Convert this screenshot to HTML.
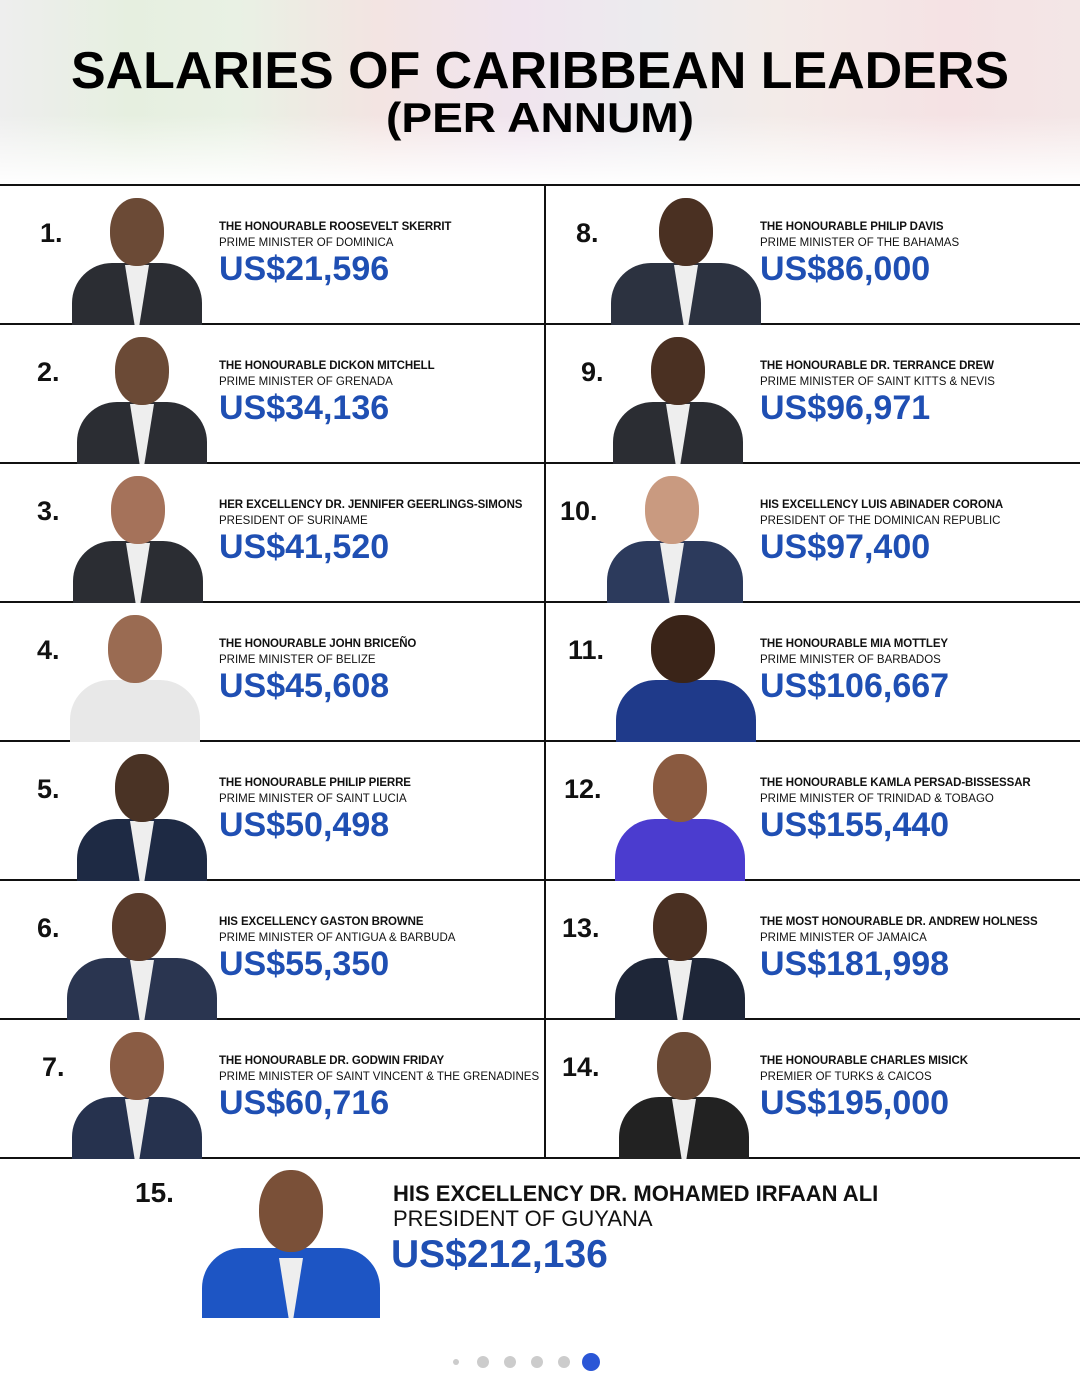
<!DOCTYPE html>
<html><head><meta charset="utf-8"><style>
body{margin:0;width:1080px;height:1380px;background:#fff;position:relative;overflow:hidden;font-family:"Liberation Sans",sans-serif}
.hdr{position:absolute;left:0;top:0;width:1080px;height:185px;background:linear-gradient(90deg,#eee 0%,#e6efe0 12%,#e9f1e4 22%,#f3e4e2 35%,#f0e4ee 48%,#ecebee 60%,#f3ebe8 72%,#f5e2e4 88%,#f3e6e6 100%)}
.hdr:after{content:"";position:absolute;left:0;right:0;bottom:0;height:70px;background:linear-gradient(rgba(255,255,255,0),#fff)}
.h{position:absolute;left:0;height:2px;background:#111;width:1080px}
.v{position:absolute;left:544px;top:185px;width:2px;height:973px;background:#111}
.c{position:absolute;width:540px;height:139px}
.n{position:absolute;top:32px;font-weight:bold;font-size:27px;color:#111}
.t{position:absolute;top:33px;font-size:11.5px;line-height:16px;color:#111;white-space:nowrap}
.t b{display:block;letter-spacing:-.1px}
.s{position:absolute;top:64px;font-weight:bold;font-size:34px;color:#1f4fb3;letter-spacing:0}
.p{position:absolute;top:12px;width:140px;height:127px;overflow:hidden}
.p .b{position:absolute;left:5px;right:5px;bottom:0;height:62px;background:#2b2d33;border-radius:40px 40px 0 0}
.p .sh{position:absolute;left:58px;width:24px;bottom:0;height:60px;background:#eee;clip-path:polygon(0 0,100% 0,60% 100%,40% 100%)}
.p .k{position:absolute;left:43px;top:0;width:54px;height:68px;background:#6b4a36;border-radius:48%}
</style></head><body>
<div class="hdr"></div>
<svg style="position:absolute;left:0;top:0" width="1080" height="185">
<text x="540" y="88" text-anchor="middle" font-family="Liberation Sans" font-weight="bold" font-size="52" textLength="938" lengthAdjust="spacingAndGlyphs" fill="#000">SALARIES OF CARIBBEAN LEADERS</text>
<text x="540" y="132" text-anchor="middle" font-family="Liberation Sans" font-weight="bold" font-size="42" textLength="308" lengthAdjust="spacingAndGlyphs" fill="#000">(PER ANNUM)</text>
</svg>
<div class="h" style="top:184px"></div><div class="h" style="top:323px"></div><div class="h" style="top:462px"></div><div class="h" style="top:601px"></div><div class="h" style="top:740px"></div><div class="h" style="top:879px"></div><div class="h" style="top:1018px"></div><div class="h" style="top:1157px"></div>
<div class="v"></div>

<div class="c" style="left:0;top:186px"><div class="n" style="left:40px">1.</div><div class="p" style="left:67px"><div class="b"></div><div class="sh"></div><div class="k"></div></div><div class="t" style="left:219px"><b>THE HONOURABLE ROOSEVELT SKERRIT</b>PRIME MINISTER OF DOMINICA</div><div class="s" style="left:219px">US$21,596</div></div>
<div class="c" style="left:0;top:325px"><div class="n" style="left:37px">2.</div><div class="p" style="left:72px"><div class="b"></div><div class="sh"></div><div class="k"></div></div><div class="t" style="left:219px"><b>THE HONOURABLE DICKON MITCHELL</b>PRIME MINISTER OF GRENADA</div><div class="s" style="left:219px">US$34,136</div></div>
<div class="c" style="left:0;top:464px"><div class="n" style="left:37px">3.</div><div class="p" style="left:68px"><div class="b"></div><div class="sh"></div><div class="k" style="background:#a5725a"></div></div><div class="t" style="left:219px"><b>HER EXCELLENCY DR. JENNIFER GEERLINGS-SIMONS</b>PRESIDENT OF SURINAME</div><div class="s" style="left:219px">US$41,520</div></div>
<div class="c" style="left:0;top:603px"><div class="n" style="left:37px">4.</div><div class="p" style="left:65px"><div class="b" style="background:#e8e8e8"></div><div class="k" style="background:#9a6b52"></div></div><div class="t" style="left:219px"><b>THE HONOURABLE JOHN BRICEÑO</b>PRIME MINISTER OF BELIZE</div><div class="s" style="left:219px">US$45,608</div></div>
<div class="c" style="left:0;top:742px"><div class="n" style="left:37px">5.</div><div class="p" style="left:72px"><div class="b" style="background:#1e2a44"></div><div class="sh"></div><div class="k" style="background:#4a3325"></div></div><div class="t" style="left:219px"><b>THE HONOURABLE PHILIP PIERRE</b>PRIME MINISTER OF SAINT LUCIA</div><div class="s" style="left:219px">US$50,498</div></div>
<div class="c" style="left:0;top:881px"><div class="n" style="left:37px">6.</div><div class="p" style="left:62px;width:160px"><div class="b" style="background:#2a3550"></div><div class="sh" style="left:68px"></div><div class="k" style="left:50px;background:#5a3c2c"></div></div><div class="t" style="left:219px"><b>HIS EXCELLENCY GASTON BROWNE</b>PRIME MINISTER OF ANTIGUA &amp; BARBUDA</div><div class="s" style="left:219px">US$55,350</div></div>
<div class="c" style="left:0;top:1020px"><div class="n" style="left:42px">7.</div><div class="p" style="left:67px"><div class="b" style="background:#26324e"></div><div class="sh"></div><div class="k" style="background:#8a5c44"></div></div><div class="t" style="left:219px"><b>THE HONOURABLE DR. GODWIN FRIDAY</b>PRIME MINISTER OF SAINT VINCENT &amp; THE GRENADINES</div><div class="s" style="left:219px">US$60,716</div></div>

<div class="c" style="left:546px;top:186px"><div class="n" style="left:30px">8.</div><div class="p" style="left:60px;width:160px"><div class="b" style="background:#2c3240"></div><div class="sh" style="left:68px"></div><div class="k" style="left:53px;background:#4a3022"></div></div><div class="t" style="left:214px"><b>THE HONOURABLE PHILIP DAVIS</b>PRIME MINISTER OF THE BAHAMAS</div><div class="s" style="left:214px">US$86,000</div></div>
<div class="c" style="left:546px;top:325px"><div class="n" style="left:35px">9.</div><div class="p" style="left:62px"><div class="b"></div><div class="sh"></div><div class="k" style="background:#4a3022"></div></div><div class="t" style="left:214px"><b>THE HONOURABLE DR. TERRANCE DREW</b>PRIME MINISTER OF SAINT KITTS &amp; NEVIS</div><div class="s" style="left:214px">US$96,971</div></div>
<div class="c" style="left:546px;top:464px"><div class="n" style="left:14px">10.</div><div class="p" style="left:56px;width:146px"><div class="b" style="background:#2c3a5c"></div><div class="sh"></div><div class="k" style="background:#c99a80"></div></div><div class="t" style="left:214px"><b>HIS EXCELLENCY LUIS ABINADER CORONA</b>PRESIDENT OF THE DOMINICAN REPUBLIC</div><div class="s" style="left:214px">US$97,400</div></div>
<div class="c" style="left:546px;top:603px"><div class="n" style="left:22px">11.</div><div class="p" style="left:65px;width:150px"><div class="b" style="background:#1f3a8a"></div><div class="k" style="background:#3a2418;width:64px;left:40px"></div></div><div class="t" style="left:214px"><b>THE HONOURABLE MIA MOTTLEY</b>PRIME MINISTER OF BARBADOS</div><div class="s" style="left:214px">US$106,667</div></div>
<div class="c" style="left:546px;top:742px"><div class="n" style="left:18px">12.</div><div class="p" style="left:64px"><div class="b" style="background:#4b3ccf"></div><div class="k" style="background:#8a5a40"></div></div><div class="t" style="left:214px"><b>THE HONOURABLE KAMLA PERSAD-BISSESSAR</b>PRIME MINISTER OF TRINIDAD &amp; TOBAGO</div><div class="s" style="left:214px">US$155,440</div></div>
<div class="c" style="left:546px;top:881px"><div class="n" style="left:16px">13.</div><div class="p" style="left:64px"><div class="b" style="background:#1e2638"></div><div class="sh"></div><div class="k" style="background:#4a3022"></div></div><div class="t" style="left:214px"><b>THE MOST HONOURABLE DR. ANDREW HOLNESS</b>PRIME MINISTER OF JAMAICA</div><div class="s" style="left:214px">US$181,998</div></div>
<div class="c" style="left:546px;top:1020px"><div class="n" style="left:16px">14.</div><div class="p" style="left:68px"><div class="b" style="background:#222"></div><div class="sh"></div><div class="k" style="background:#6b4a36"></div></div><div class="t" style="left:214px"><b>THE HONOURABLE CHARLES MISICK</b>PREMIER OF TURKS &amp; CAICOS</div><div class="s" style="left:214px">US$195,000</div></div>

<div style="position:absolute;left:135px;top:1177px;font-weight:bold;font-size:28px;color:#111">15.</div>
<div class="p" style="left:197px;top:1170px;width:188px;height:148px"><div class="b" style="background:#1d55c4;height:70px"></div><div class="sh" style="left:82px"></div><div class="k" style="left:62px;width:64px;height:82px;background:#7a5038"></div></div>
<div style="position:absolute;left:393px;top:1181px;font-size:22px;line-height:25px;color:#111;white-space:nowrap"><b style="font-weight:600">HIS EXCELLENCY DR. MOHAMED IRFAAN ALI</b><br>PRESIDENT OF GUYANA</div>
<div style="position:absolute;left:391px;top:1233px;font-weight:bold;font-size:39px;color:#1f4fb3;letter-spacing:0">US$212,136</div>

<div style="position:absolute;left:453px;top:1359px;width:6px;height:6px;border-radius:50%;background:#ccc"></div>
<div style="position:absolute;left:477px;top:1356px;width:12px;height:12px;border-radius:50%;background:#ccc"></div>
<div style="position:absolute;left:504px;top:1356px;width:12px;height:12px;border-radius:50%;background:#ccc"></div>
<div style="position:absolute;left:531px;top:1356px;width:12px;height:12px;border-radius:50%;background:#ccc"></div>
<div style="position:absolute;left:558px;top:1356px;width:12px;height:12px;border-radius:50%;background:#ccc"></div>
<div style="position:absolute;left:582px;top:1353px;width:18px;height:18px;border-radius:50%;background:#2a56d6"></div>
</body></html>
